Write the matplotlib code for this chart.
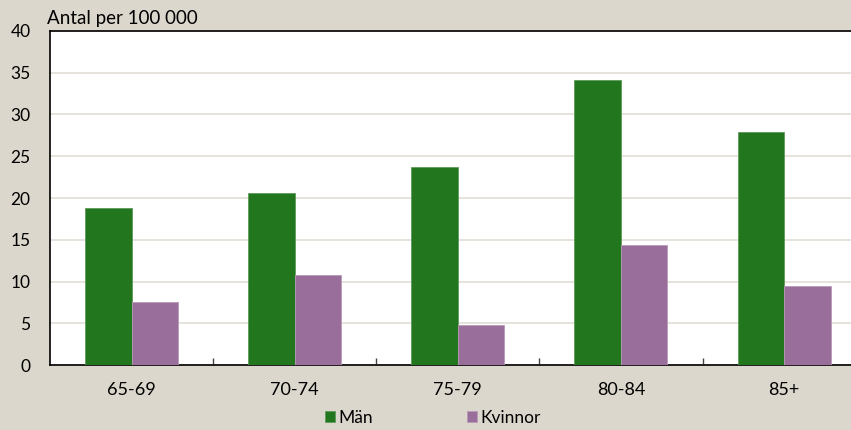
import matplotlib.pyplot as plt
import numpy as np

# data
age_groups = ['65-69', '70-74', '75-79', '80-84', '85+']
man = [18.8, 20.6, 23.7, 34.1, 27.9]
kvinnor = [7.5, 10.8, 4.8, 14.4, 9.5]
yticks = [0, 5, 10, 15, 20, 25, 30, 35, 40]

bg = '#dcd7cd'
green = '#22761e'
purple = '#9a6e9a'

plt.rcParams['font.family'] = ['Lato', 'DejaVu Sans']

fig = plt.figure(figsize=(8.51, 4.30), dpi=100, facecolor=bg)
ax = fig.add_axes([0.0588, 0.151, 0.9412, 0.777])
ax.set_facecolor('white')

x = np.arange(len(age_groups))
width = 0.285
ax.bar(x - width / 2, man, width, color=green, edgecolor='#5f9a5a', linewidth=0.6,
       label='Män', zorder=3)
ax.bar(x + width / 2, kvinnor, width, color=purple, edgecolor='#b89ab8', linewidth=0.6,
       label='Kvinnor', zorder=3)

ax.set_xlim(-0.5, 4.41)
ax.set_ylim(0, 40)
ax.set_yticks(yticks)
ax.yaxis.grid(True, color='#e2ddd5', linewidth=1.2, zorder=0)
ax.tick_params(axis='y', length=0, labelsize=12.5, pad=14)

ax.set_xticks(x)
ax.set_xticklabels(age_groups)
ax.tick_params(axis='x', length=0, labelsize=13, pad=12)
ax.set_xticks(x[:-1] + 0.5, minor=True)
ax.tick_params(axis='x', which='minor', direction='in', length=5, width=1, color='#444444')

for side in ['left', 'bottom', 'top']:
    ax.spines[side].set_color('black')
    ax.spines[side].set_linewidth(1.2)
ax.spines['right'].set_visible(False)

fig.text(0.055, 0.938, 'Antal per 100 000', fontsize=13.5, va='bottom', ha='left')

ax.legend(loc='upper center', bbox_to_anchor=(0.478, -0.098), ncol=2, frameon=False,
          fontsize=12.5, handlelength=0.6, handleheight=0.6, handletextpad=0.2,
          columnspacing=5.4, borderpad=0.2)

fig.savefig('out.png', dpi=100, facecolor=bg)
